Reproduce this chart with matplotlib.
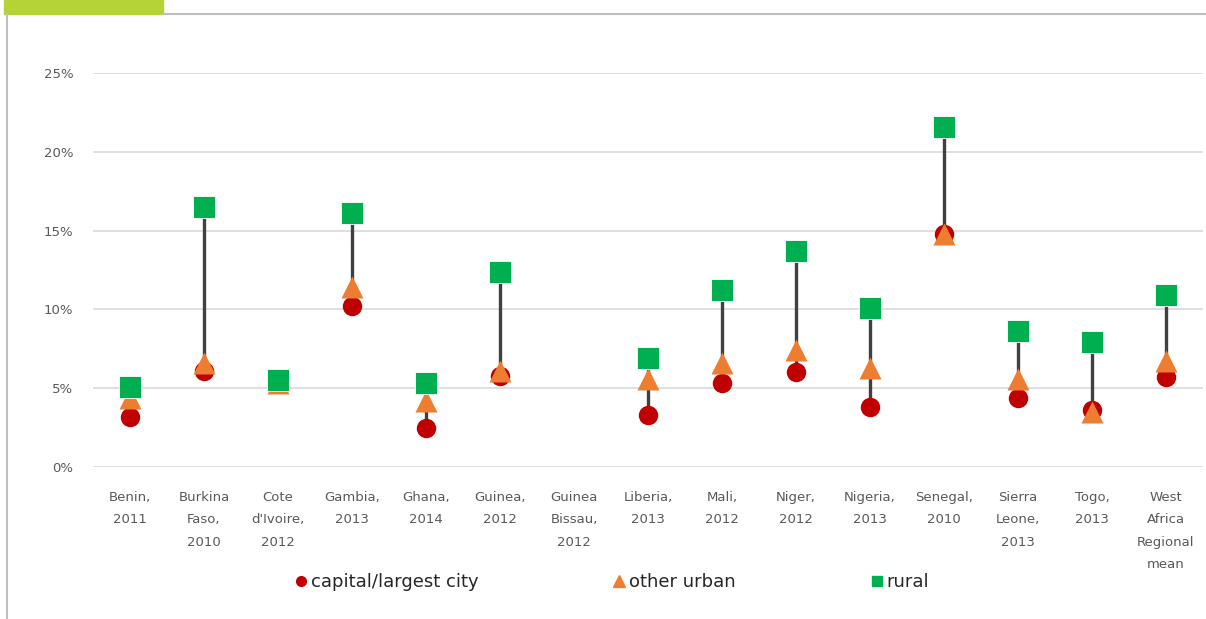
import numpy as np
import matplotlib.pyplot as plt
from matplotlib.patches import Rectangle
from matplotlib.lines import Line2D

countries = ['Benin,\n2011', 'Burkina\nFaso,\n2010', "Cote\nd'Ivoire,\n2012", 'Gambia,\n2013',
             'Ghana,\n2014', 'Guinea,\n2012', 'Guinea\nBissau,\n2012', 'Liberia,\n2013',
             'Mali,\n2012', 'Niger,\n2012', 'Nigeria,\n2013', 'Senegal,\n2010',
             'Sierra\nLeone,\n2013', 'Togo,\n2013', 'West\nAfrica\nRegional\nmean']
capital = [3.2, 6.1, np.nan, 10.2, 2.5, 5.8, np.nan, 3.3, 5.3, 6.0, 3.8, 14.8, 4.4, 3.6, 5.7]
other_urban = [4.4, 6.6, 5.3, 11.4, 4.2, 6.1, np.nan, 5.6, 6.6, 7.4, 6.3, 14.8, 5.6, 3.5, 6.7]
rural = [5.1, 16.5, 5.5, 16.1, 5.3, 12.4, np.nan, 6.9, 11.2, 13.7, 10.1, 21.6, 8.6, 7.9, 10.9]

red = '#C00000'
orange = '#ED7D31'
green = '#00B050'
txt = '#595959'

fig = plt.figure(figsize=(12.06, 6.19), dpi=100)
ax = fig.add_axes([93 / 1206, 1 - 467 / 619, 1110 / 1206, 394 / 619])

x = np.arange(len(countries))
vals = np.array([capital, other_urban, rural], dtype=float)
lo = np.nanmin(np.where(np.isnan(vals), np.inf, vals), axis=0)
hi = np.nanmax(np.where(np.isnan(vals), -np.inf, vals), axis=0)
ok = np.isfinite(lo) & (hi > lo)
# dark connector from lowest to highest value in each country
ax.vlines(x[ok], lo[ok] / 100, hi[ok] / 100, color='#404040', lw=2.4, zorder=2)

ax.plot(x, np.array(capital) / 100, 'o', color=red, ms=14, mec='none', zorder=3)
ax.plot(x, np.array(other_urban) / 100, '^', color=orange, ms=16, mec='none', zorder=4)
ax.plot(x, np.array(rural) / 100, 's', color=green, ms=16, mec='white', mew=0.6, zorder=5)

ax.set_xlim(-0.5, len(countries) - 0.5)
ax.set_ylim(0, 0.25)
ax.set_yticks(np.arange(0, 0.26, 0.05))
ax.set_yticklabels([f'{int(round(v * 100))}%' for v in np.arange(0, 0.26, 0.05)])
ax.set_xticks(x)
ax.set_xticklabels(countries, linespacing=1.95, va='top')
ax.tick_params(axis='both', length=0, colors=txt, labelsize=9.5)
ax.tick_params(axis='x', pad=17)
ax.tick_params(axis='y', pad=14)
ax.yaxis.grid(True, color='#D9D9D9', lw=1.2)
ax.set_axisbelow(True)
for s in ax.spines.values():
    s.set_visible(False)

handles = [Line2D([], [], ls='none', marker='o', color=red, ms=7),
           Line2D([], [], ls='none', marker='^', color=orange, ms=8),
           Line2D([], [], ls='none', marker='s', color=green, ms=7)]
fig.legend(handles, ['capital/largest city', 'other urban', 'rural'], ncol=3,
           loc='center', bbox_to_anchor=(0.507, 0.06), frameon=False,
           fontsize=13, handlelength=0.8, handletextpad=0.15, columnspacing=7.4,
           labelcolor='#262626')

# header strip and frame of the original figure box
fig.patches.append(Rectangle((4 / 1206, 1 - 14 / 619), 159 / 1206, 14 / 619,
                             transform=fig.transFigure, color='#B5D334', zorder=0))
fig.add_artist(Line2D([163 / 1206, 1], [1 - 14 / 619] * 2, color='#BFBFBF', lw=1.5))
fig.add_artist(Line2D([7 / 1206] * 2, [0, 1 - 14 / 619], color='#BFBFBF', lw=1.5))

fig.savefig('out.png', dpi=100)
